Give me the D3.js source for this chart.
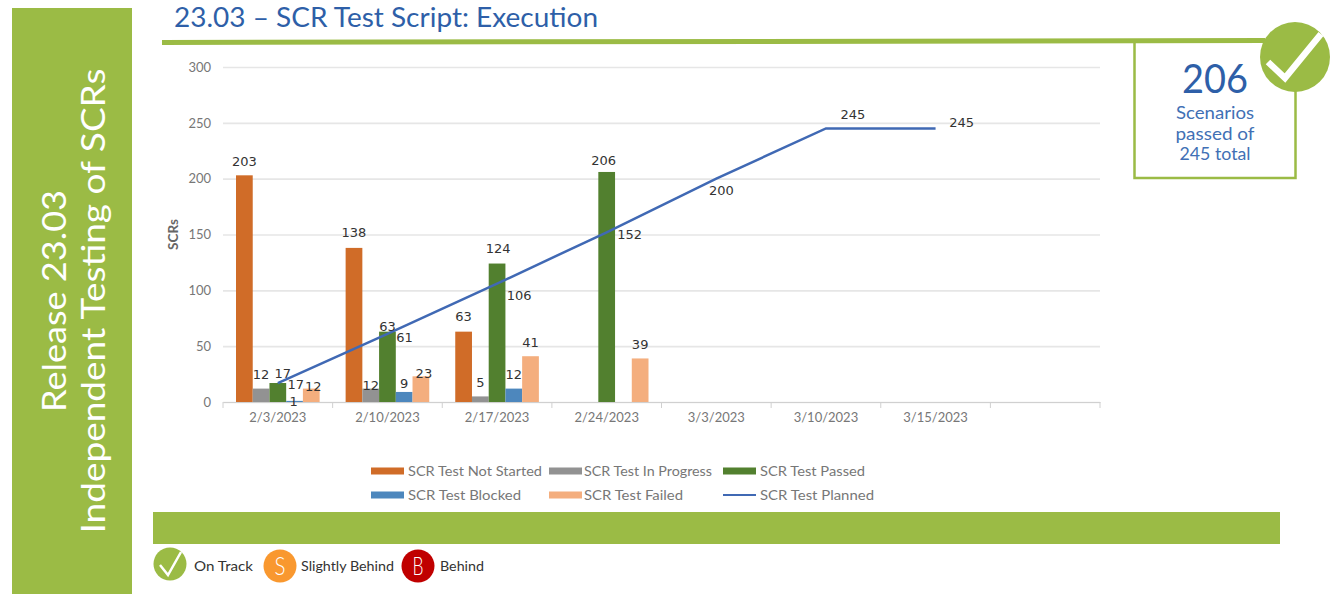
<!DOCTYPE html>
<html>
<head>
<meta charset="utf-8">
<script src="https://cdn.jsdelivr.net/npm/d3@7"></script>
<style>
  html, body { margin: 0; padding: 0; background: #fff; }
  svg { display: block; }
  text { font-family: "Lato", sans-serif; }
  .value { font-family: "DejaVu Sans", sans-serif; font-size: 13px; fill: #333; text-anchor: middle; dominant-baseline: central; }
</style>
</head>
<body>
<div id="chart"></div>
<script>
const categories = ["2/3/2023", "2/10/2023", "2/17/2023", "2/24/2023", "3/3/2023", "3/10/2023", "3/15/2023", ""];
const barSeries = ["SCR Test Not Started", "SCR Test In Progress", "SCR Test Passed", "SCR Test Blocked", "SCR Test Failed"];
const notStarted = [203, 138, 63, null, null, null, null, null];
const inProgress = [12, 12, 5, null, null, null, null, null];
const passed = [17, 63, 124, 206, null, null, null, null];
const blocked = [1, 9, 12, null, null, null, null, null];
const failed = [12, 23, 41, 39, null, null, null, null];
const planned = [17, 61, 106, 152, 200, 245, 245, null];
const yTicks = [0, 50, 100, 150, 200, 250, 300];

const green = "#9bbb45";
const blue = "#2e5fa8";
const barColors = ["#d06c28", "#929292", "#52802f", "#4d87bd", "#f4ae7e"];
const lineColor = "#4069b4";

// label nudges from the default spot, one row per series, [dx, dy]
const barNudge = [
  [[0, -14], [0, -15], [0, -15], null],
  [[0, -14], [0, -3], [0, -14], null],
  [[5, -10], [0, -5], [1, -15], [-3, -11]],
  [[-1, 1], [0, -8], [0, -14], null],
  [[2, -2], [3, -3], [0, -14], [0, -14]],
];
const lineNudge = [[18, 1], [17, 4], [22, 12], [23, 2], [5, 12], [27, -14], [26, -6]];

const svg = d3.select("#chart").append("svg").attr("width", 1338).attr("height", 594);

// stretches the fallback font out to the width measured on the reference
function fit(sel, w) {
  return sel.attr("textLength", w).attr("lengthAdjust", "spacingAndGlyphs");
}

// side panel and title
svg.append("rect").attr("x", 12).attr("y", 8).attr("width", 120).attr("height", 586).attr("fill", green);
const sideText = [["Release 23.03", 53, 301, 222], ["Independent Testing of SCRs", 92, 301, 465]];
sideText.forEach(function (d) {
  fit(svg.append("text")
    .attr("transform", "translate(" + d[1] + "," + d[2] + ") rotate(-90)")
    .attr("text-anchor", "middle")
    .attr("dominant-baseline", "central")
    .attr("font-size", 33)
    .attr("fill", "#fff")
    .text(d[0]), d[3]);
});
fit(svg.append("text").attr("x", 174).attr("y", 27).attr("font-size", 27).attr("fill", blue)
  .text("23.03 \u2013 SCR Test Script: Execution"), 424);
svg.append("rect").attr("x", 153).attr("y", 512).attr("width", 1127).attr("height", 32).attr("fill", green);

// chart
const margin = { top: 67, left: 223 };
const width = 877, height = 335;
const g = svg.append("g").attr("transform", "translate(" + margin.left + "," + margin.top + ")");

const x = d3.scaleBand().domain(d3.range(categories.length)).range([0, width]);
const x1 = d3.scaleBand().domain(barSeries).range([13, x.bandwidth() - 13]);
const y = d3.scaleLinear().domain([0, 300]).range([height, 0]);

const yAxis = g.append("g")
  .call(d3.axisLeft(y).tickValues(yTicks).tickSize(-width).tickPadding(12));
yAxis.select(".domain").remove();
yAxis.selectAll("line").attr("stroke", "#e6e6e6").attr("stroke-width", 1.6);
yAxis.selectAll("text").attr("fill", "#777").attr("font-size", 13).attr("font-family", "Lato");

const xAxis = g.append("g").attr("transform", "translate(0," + height + ")")
  .call(d3.axisBottom(x).tickFormat(function (i) { return categories[i]; }).tickSize(0).tickPadding(11));
xAxis.select(".domain").attr("stroke", "#d0d0d0");
xAxis.selectAll("text").attr("fill", "#777").attr("font-size", 13).attr("font-family", "Lato");
g.selectAll(".edge").data(d3.range(categories.length + 1)).enter().append("line")
  .attr("class", "edge")
  .attr("x1", function (i) { return i * x.step(); })
  .attr("x2", function (i) { return i * x.step(); })
  .attr("y1", height).attr("y2", height + 6)
  .attr("stroke", "#d0d0d0");

fit(g.append("text")
  .attr("transform", "translate(-45," + y(150) + ") rotate(-90)")
  .attr("text-anchor", "middle")
  .attr("font-size", 14).attr("font-weight", 700).attr("fill", "#666")
  .text("SCRs"), 31);

const barValues = [notStarted, inProgress, passed, blocked, failed];
barValues.forEach(function (values, s) {
  const rows = values.map(function (v, i) { return { v: v, i: i }; }).filter(function (d) { return d.v !== null; });
  g.selectAll(".bar" + s).data(rows).enter().append("rect")
    .attr("class", "bar" + s)
    .attr("x", function (d) { return x(d.i) + x1(barSeries[s]); })
    .attr("width", x1.bandwidth())
    .attr("y", function (d) { return y(d.v); })
    .attr("height", function (d) { return height - y(d.v); })
    .attr("fill", barColors[s]);
});

const plannedRows = planned.map(function (v, i) { return { v: v, i: i }; }).filter(function (d) { return d.v !== null; });
const line = d3.line()
  .x(function (d) { return x(d.i) + x.bandwidth() / 2; })
  .y(function (d) { return y(d.v); });
g.append("path").datum(plannedRows)
  .attr("d", line).attr("fill", "none").attr("stroke", lineColor).attr("stroke-width", 2.5);

barValues.forEach(function (values, s) {
  values.forEach(function (v, i) {
    if (v === null) return;
    const n = barNudge[s][i];
    g.append("text").attr("class", "value")
      .attr("x", x(i) + x1(barSeries[s]) + x1.bandwidth() / 2 + n[0])
      .attr("y", y(v) + n[1])
      .text(v);
  });
});
plannedRows.forEach(function (d) {
  const n = lineNudge[d.i];
  g.append("text").attr("class", "value")
    .attr("x", x(d.i) + x.bandwidth() / 2 + n[0])
    .attr("y", y(d.v) + n[1])
    .text(d.v);
});

// chart legend
const legendNames = barSeries.concat(["SCR Test Planned"]);
const legendCols = [371, 549, 723];
const legendTextX = [408, 584, 760];
const legendRows = [471, 495];
const legendWidths = [134, 128, 105, 113, 99, 114];
legendNames.forEach(function (name, i) {
  const lx = legendCols[i % 3], ly = legendRows[Math.floor(i / 3)];
  if (i < 5) {
    svg.append("rect").attr("x", lx).attr("y", ly - 3.5).attr("width", 33).attr("height", 7).attr("fill", barColors[i]);
  } else {
    svg.append("line").attr("x1", lx).attr("x2", lx + 33).attr("y1", ly).attr("y2", ly)
      .attr("stroke", lineColor).attr("stroke-width", 2);
  }
  fit(svg.append("text").attr("x", legendTextX[i % 3]).attr("y", ly + 4.5)
    .attr("font-size", 14).attr("fill", "#777").text(name), legendWidths[i]);
});

// summary box, with the slightly tilted rule over its top edge
svg.append("rect").attr("x", 1134.5).attr("y", 41).attr("width", 161).attr("height", 137)
  .attr("fill", "#fff").attr("stroke", green).attr("stroke-width", 2.5);
svg.append("line").attr("x1", 162).attr("x2", 1265).attr("y1", 42.5).attr("y2", 40.5)
  .attr("stroke", green).attr("stroke-width", 5);
svg.append("circle").attr("cx", 1295).attr("cy", 57).attr("r", 35).attr("fill", green);
svg.append("path").attr("d", "M1268 62 L1285 78 L1321 34")
  .attr("fill", "none").attr("stroke", "#fff").attr("stroke-width", 6.5);
fit(svg.append("text").attr("x", 1215).attr("y", 93).attr("text-anchor", "middle")
  .attr("font-size", 41).attr("fill", blue).text("206"), 66);
const boxLines = [["Scenarios", 119, 78], ["passed of", 139.5, 79], ["245 total", 160, 71]];
boxLines.forEach(function (d) {
  fit(svg.append("text").attr("x", 1215).attr("y", d[1]).attr("text-anchor", "middle")
    .attr("font-size", 17).attr("fill", "#4170b5").text(d[0]), d[2]);
});

// status key
svg.append("circle").attr("cx", 170).attr("cy", 564).attr("r", 16.5).attr("fill", green);
svg.append("path").attr("d", "M160 565 L168 575 L181 552")
  .attr("fill", "none").attr("stroke", "#fff").attr("stroke-width", 2.5);
const statusKey = [
  { letter: "S", cx: 280, color: "#f9982f", label: "Slightly Behind", lx: 301, w: 93 },
  { letter: "B", cx: 418, color: "#c00000", label: "Behind", lx: 440, w: 44 },
];
statusKey.forEach(function (d) {
  svg.append("circle").attr("cx", d.cx).attr("cy", 566).attr("r", 16.5).attr("fill", d.color);
  fit(svg.append("text").attr("x", d.cx).attr("y", 575).attr("text-anchor", "middle")
    .attr("font-size", 25).attr("font-weight", 300).attr("fill", "#fff").text(d.letter), 11);
  fit(svg.append("text").attr("x", d.lx).attr("y", 571).attr("font-size", 14).attr("fill", "#333")
    .text(d.label), d.w);
});
fit(svg.append("text").attr("x", 194).attr("y", 571).attr("font-size", 14).attr("fill", "#333")
  .text("On Track"), 59);
</script>
</body>
</html>
